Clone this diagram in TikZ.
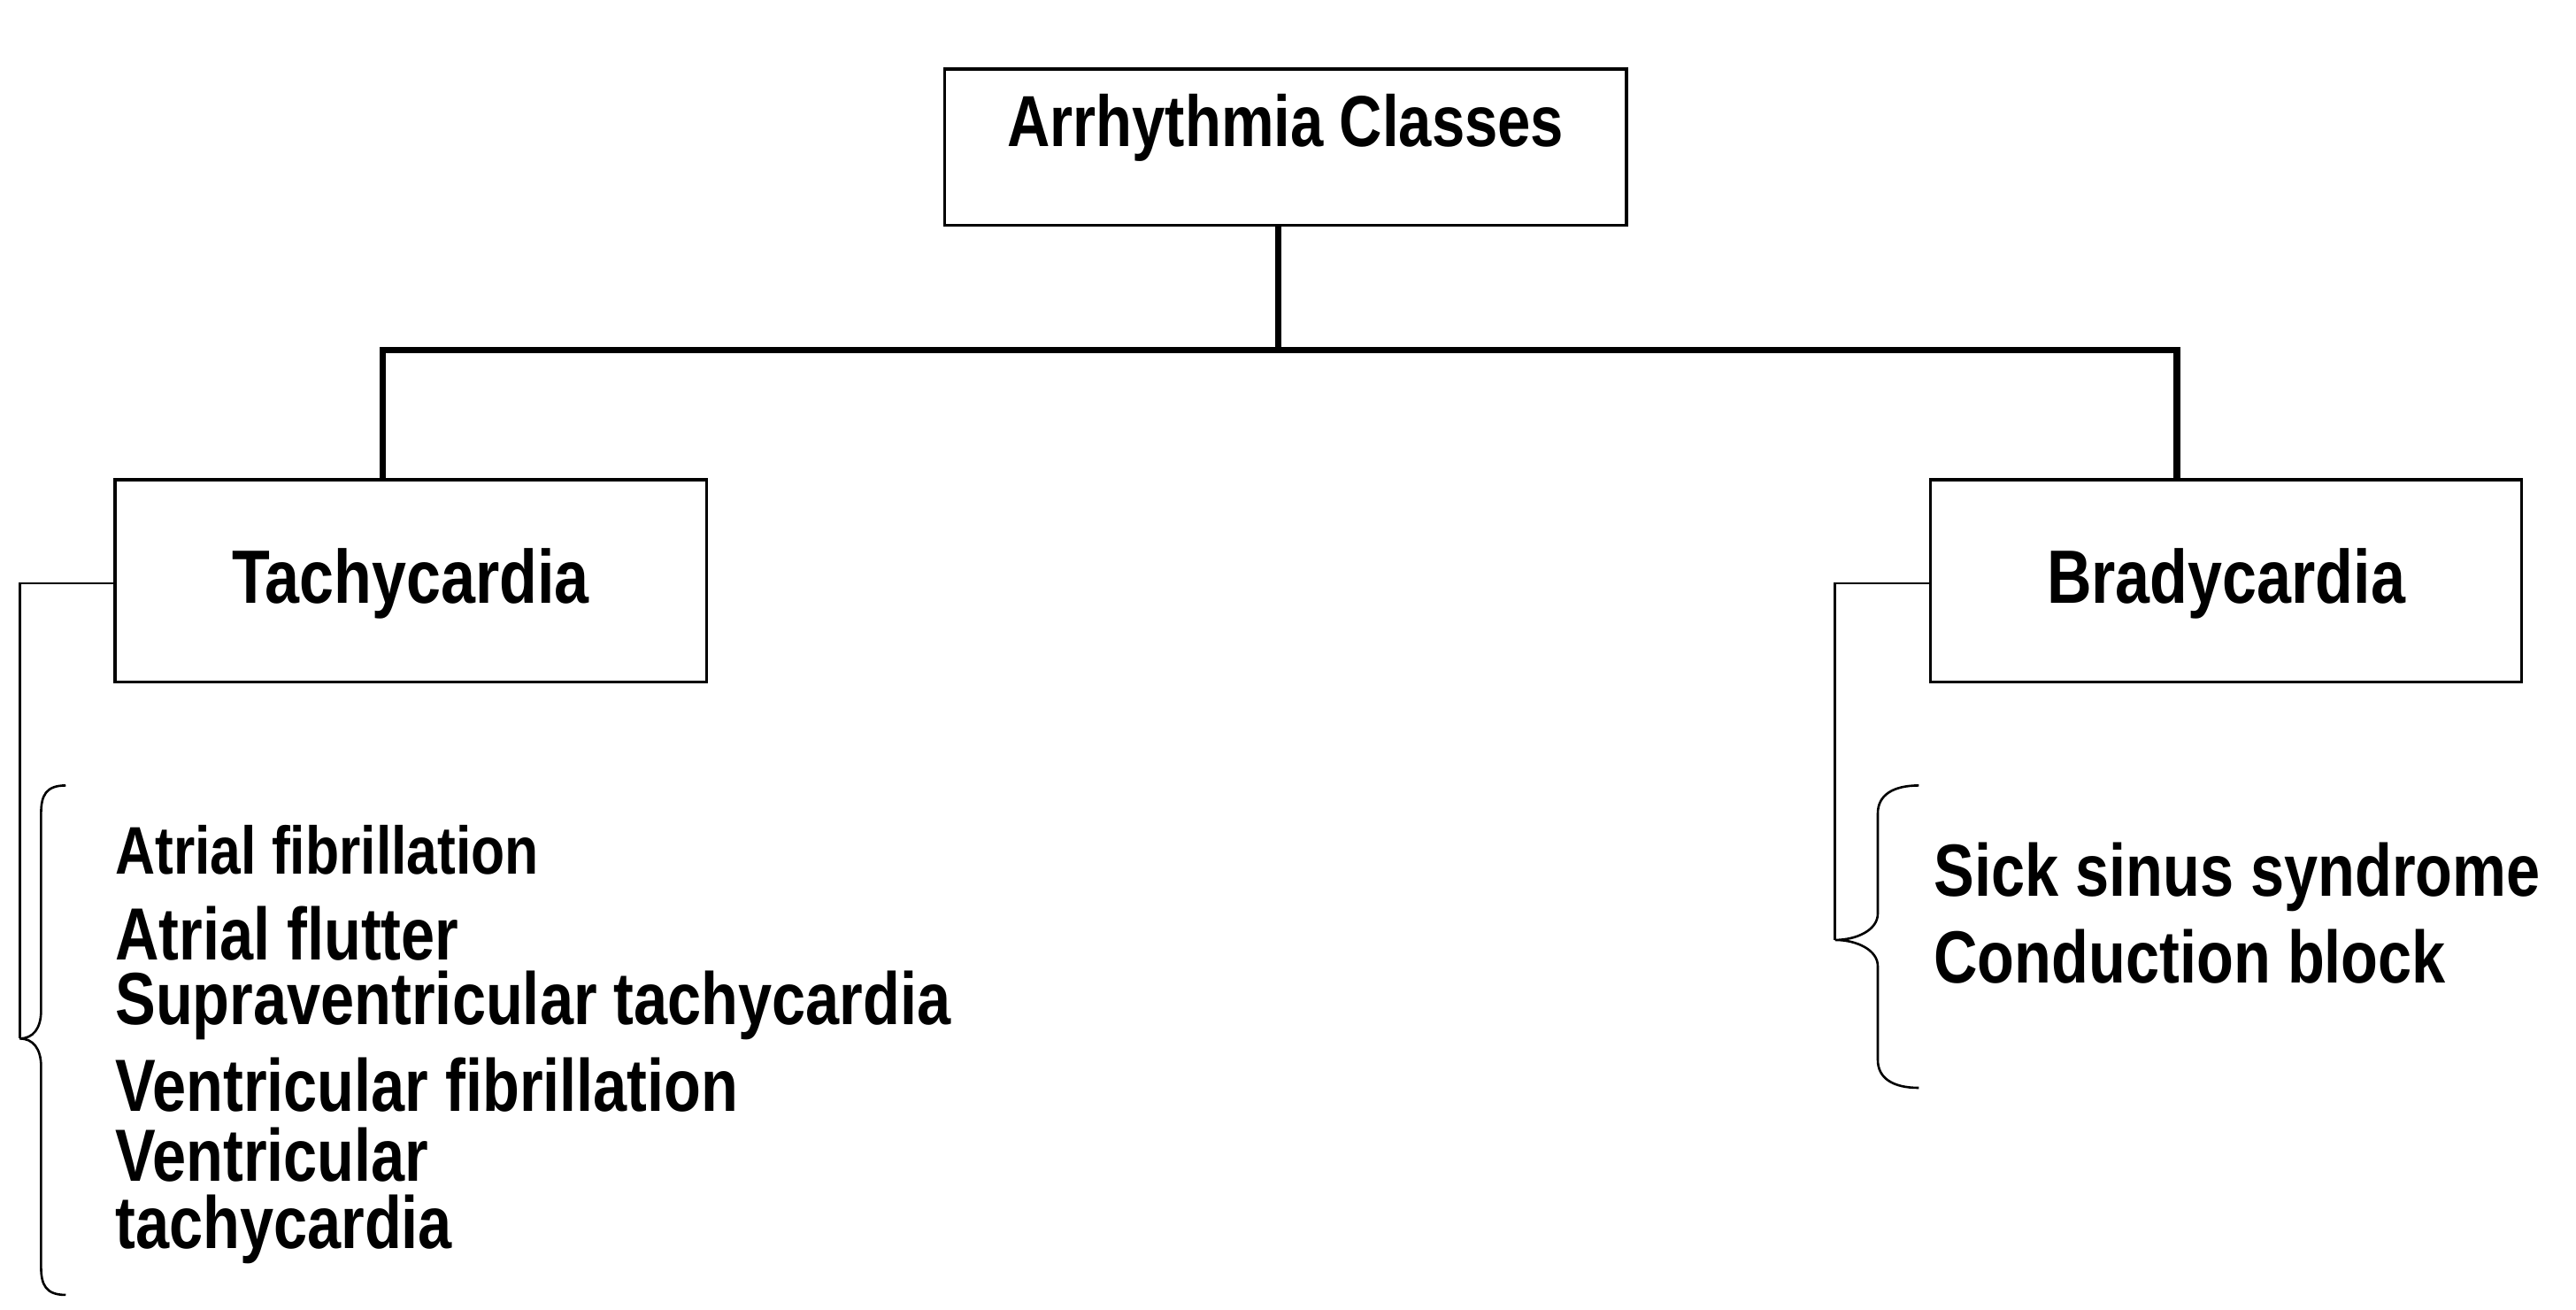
\documentclass[tikz,border=0pt]{standalone}
\usepackage{fontspec}
\setmainfont{Liberation Sans}[FakeStretch=0.82]
\begin{document}
\begin{tikzpicture}[x=1pt,y=-1pt,
  box/.style={draw,line width=1.8pt,minimum width=360pt,minimum height=123pt,inner sep=0pt},
  thick line/.style={line width=4pt},
  thin line/.style={line width=1.4pt},
  big/.style={font=\fontsize{46}{48}\selectfont\bfseries},
  item/.style={anchor=west,inner sep=0pt,font=\fontsize{45}{48}\selectfont\bfseries}]
\useasboundingbox (0,0) rectangle (1568,797);
\node[box,minimum width=415pt,minimum height=95pt] (top) at (782.5,89.5) {};
\node[big,font=\fontsize{44}{46}\selectfont\bfseries] (toptxt) at (782.5,78) {Arrhythmia Classes};
\node[box] (tachy) at (250,353.5) {};
\node[big] at (250,355) {Tachycardia};
\node[box] (brady) at (1355,353.5) {};
\node[big] at (1355,355) {Bradycardia};
\coordinate (j) at (778,213);
\draw[thick line] (top.south -| j) -- (j);
\draw[thick line,line join=miter] (tachy.north -| 233,0) -- (233,213) -- (1325,213) -- (brady.north -| 1325,0);
% tachy brace
\coordinate (tb) at (12,632);
\draw[thin line] (tachy.west |- 0,355) -- (12,355) -- (tb);
\draw[thin line] (40,478) .. controls (28,478) and (25,484) .. (25,495) -- (25,615)
  .. controls (25,626) and (20,632) .. (tb) .. controls (20,632) and (25,638) .. (25,649)
  -- (25,771) .. controls (25,782) and (28,788) .. (40,788);
% brady brace
\coordinate (bb) at (1117,572);
\draw[thin line] (brady.west |- 0,355) -- (1117,355) -- (bb);
\draw[thin line] (1168,478) .. controls (1152,478) and (1143,484) .. (1143,495) -- (1143,556)
  .. controls (1143,566) and (1130,572) .. (bb) .. controls (1130,572) and (1143,578) .. (1143,588)
  -- (1143,645) .. controls (1143,656) and (1152,662) .. (1168,662);
\node[item,font=\fontsize{41}{44}\selectfont\bfseries] at (70,517) {Atrial fibrillation};
\node[item] at (70,568) {Atrial flutter};
\node[item] at (70,612) {Supraventricular tachycardia};
\node[item] at (70,660) {Ventricular fibrillation};
\node[item] at (70,703) {Ventricular};
\node[item] at (70,748) {tachycardia};
\node[item] at (1177,534) {Sick sinus syndrome};
\node[item] at (1177,582) {Conduction block};
\end{tikzpicture}
\end{document}
